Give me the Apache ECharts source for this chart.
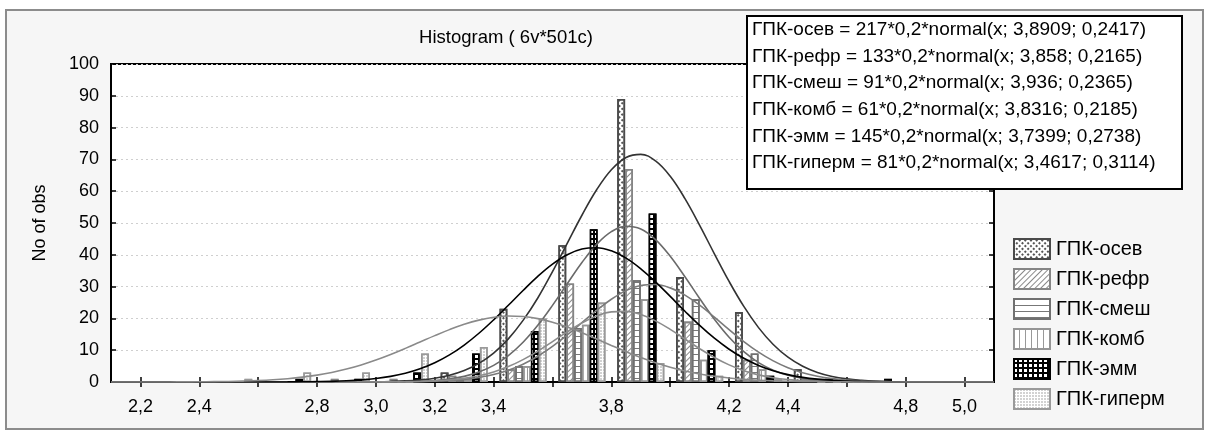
<!DOCTYPE html>
<html>
<head>
<meta charset="utf-8">
<script src="https://cdn.jsdelivr.net/npm/echarts@6/dist/echarts.min.js"></script>
<style>
html,body{margin:0;padding:0;background:#fff;}
#chart{width:1209px;height:431px;}
</style>
</head>
<body>
<div id="chart"></div>
<script>
// ---- data ----
const seriesNames = ['ГПК-осев','ГПК-рефр','ГПК-смеш','ГПК-комб','ГПК-эмм','ГПК-гиперм'];
const binCenters = [2.3,2.5,2.7,2.9,3.1,3.3,3.5,3.7,3.9,4.1,4.3,4.5,4.7,4.9];
const osev   = [0,0,0,0,0,3,23,43,89,33,22,4,0,0];
const refr   = [0,0,0,1,1,2,4,31,67,19,7,1,0,0];
const smesh  = [0,0,0,0,0,1,5,17,32,26,9,1,0,0];
const komb   = [0,0,0,0,0,1,5,18,26,7,4,0,0,0];
const emm    = [0,0,1,1,3,9,16,48,53,10,2,1,1,0];
const giperm = [0,1,3,3,9,11,20,25,6,2,1,0,0,0];

// fitted normal curves, read at x = 2.1 ... 5.1 (step 0.05)
const curveX = [2.1,2.15,2.2,2.25,2.3,2.35,2.4,2.45,2.5,2.55,
                2.6,2.65,2.7,2.75,2.8,2.85,2.9,2.95,3.0,3.05,
                3.1,3.15,3.2,3.25,3.3,3.35,3.4,3.45,3.5,3.55,
                3.6,3.65,3.7,3.75,3.8,3.85,3.9,3.95,4.0,4.05,
                4.1,4.15,4.2,4.25,4.3,4.35,4.4,4.45,4.5,4.55,
                4.6,4.65,4.7,4.75,4.8,4.85,4.9,4.95,5.0,5.05,5.1];
const osevFit = [0,0,0,0,0,0,0,0,0,0,
                 0,0,0,0,0,0.01,0.02,0.04,0.08,0.17,
                 0.34,0.65,1.2,2.13,3.61,5.86,9.11,13.57,19.37,26.42,
                 34.72,43.59,52.44,60.44,66.74,70.61,71.58,69.52,64.69,57.67,
                 49.27,40.32,31.62,23.76,17.1,11.79,7.79,4.93,2.99,1.74,
                 0.97,0.52,0.26,0.13,0.06,0.03,0.01,0,0,0,0];
const refrFit = [0,0,0,0,0,0,0,0,0,0,
                 0,0,0,0,0,0,0,0.01,0.02,0.05,
                 0.11,0.23,0.48,0.95,1.77,3.13,5.23,8.3,12.49,17.82,
                 24.1,30.9,37.56,43.29,47.29,48.99,48.11,44.79,39.53,33.08,
                 26.25,19.74,14.08,9.52,6.1,3.71,2.13,1.17,0.6,0.3,
                 0.14,0.06,0.03,0.01,0,0,0,0,0,0,0];
const smeshFit = [0,0,0,0,0,0,0,0,0,0,
                  0,0,0,0,0,0,0,0,0.01,0.03,
                  0.06,0.12,0.24,0.46,0.83,1.43,2.35,3.72,5.61,8.1,
                  11.19,14.78,18.66,22.53,26.02,28.74,30.35,30.65,29.6,27.33,
                  24.14,20.39,16.46,12.72,9.39,6.63,4.48,2.89,1.79,1.06,
                  0.6,0.32,0.17,0.08,0.04,0.02,0.01,0,0,0,0];
const kombFit = [0,0,0,0,0,0,0,0,0,0,
                 0,0,0,0,0,0,0,0.01,0.02,0.04,
                 0.08,0.17,0.34,0.64,1.15,1.96,3.17,4.85,7.04,9.71,
                 12.7,15.77,18.58,20.77,22.04,22.2,21.21,19.23,16.55,13.52,
                 10.47,7.7,5.38,3.56,2.24,1.33,0.76,0.41,0.21,0.1,
                 0.05,0.02,0.01,0,0,0,0,0,0,0,0];
const emmFit = [0,0,0,0,0,0,0,0,0,0,
                0.01,0.02,0.03,0.06,0.12,0.21,0.38,0.66,1.1,1.77,
                2.75,4.15,6.05,8.52,11.62,15.33,19.55,24.12,28.78,33.22,
                37.08,40.03,41.8,42.22,41.24,38.97,35.61,31.48,26.91,22.25,
                17.79,13.76,10.3,7.45,5.21,3.53,2.31,1.46,0.9,0.53,
                0.3,0.17,0.09,0.05,0.02,0.01,0,0,0,0,0];
const gipermFit = [0,0,0.01,0.01,0.02,0.04,0.06,0.11,0.18,0.29,
                   0.45,0.69,1.04,1.52,2.17,3.01,4.08,5.38,6.91,8.66,
                   10.57,12.58,14.58,16.47,18.14,19.46,20.35,20.74,20.6,19.94,
                   18.81,17.29,15.49,13.52,11.5,9.54,7.71,6.07,4.66,3.48,
                   2.54,1.8,1.25,0.84,0.55,0.35,0.22,0.13,0.08,0.05,
                   0.03,0.01,0.01,0,0,0,0,0,0,0,0];

const formulaLines = [
  'ГПК-осев = 217*0,2*normal(x; 3,8909; 0,2417)',
  'ГПК-рефр = 133*0,2*normal(x; 3,858; 0,2165)',
  'ГПК-смеш = 91*0,2*normal(x; 3,936; 0,2365)',
  'ГПК-комб = 61*0,2*normal(x; 3,8316; 0,2185)',
  'ГПК-эмм = 145*0,2*normal(x; 3,7399; 0,2738)',
  'ГПК-гиперм = 81*0,2*normal(x; 3,4617; 0,3114)'
];
const xTickValues = [2.2,2.4,2.6,2.8,3.0,3.2,3.4,3.6,3.8,4.0,4.2,4.4,4.6,4.8,5.0];
const xLabelValues = [2.2,2.4,2.8,3.0,3.2,3.4,3.8,4.2,4.4,4.8,5.0];
const titleText = 'Histogram ( 6v*501c)';
const yName = 'No of obs';

// ---- styles ----
const FONT = '"Liberation Sans", Arial, sans-serif';
const barValues = [osev, refr, smesh, komb, emm, giperm];
const fitValues = [osevFit, refrFit, smeshFit, kombFit, emmFit, gipermFit];
const barStyles = [
  {color:'#fff', borderColor:'#4a4a4a', decal:{color:'#555', symbol:'rect', symbolSize:1, dashArrayX:[2,2], dashArrayY:[2,2], rotation:Math.PI/4}},
  {color:'#fff', borderColor:'#858585', decal:{color:'#8a8a8a', symbol:'rect', symbolSize:1, dashArrayX:[1,0], dashArrayY:[1,3], rotation:-Math.PI/4}},
  {color:'#fff', borderColor:'#707070', decal:{color:'#777', symbol:'rect', symbolSize:1, dashArrayX:[1,0], dashArrayY:[1,5], rotation:0}},
  {color:'#fff', borderColor:'#959595', decal:{color:'#999', symbol:'rect', symbolSize:1, dashArrayX:[1,0], dashArrayY:[1,5], rotation:Math.PI/2}},
  {color:'#000', borderColor:'#000', decal:{color:'#fff', symbol:'rect', symbolSize:1, dashArrayX:[3,2], dashArrayY:[3,2], rotation:0}},
  {color:'#fff', borderColor:'#9a9a9a', decal:{color:'#aaa', symbol:'rect', symbolSize:0.7, dashArrayX:[2,1], dashArrayY:[2,1], rotation:0}}
];
const lineColors = ['#333333','#6a6a6a','#7a7a7a','#8c8c8c','#000','#8a8a8a'];

const series = [];
seriesNames.forEach((name, s) => {
  series.push({
    name: name, type: 'bar', xAxisIndex: 0, yAxisIndex: 0,
    barGap: '0%', barCategoryGap: '20%',
    data: binCenters.map((c, i) => [c, barValues[s][i]]),
    itemStyle: Object.assign({borderWidth: 1.6}, barStyles[s]),
    emphasis: {disabled: true}, z: 2
  });
});
seriesNames.forEach((name, s) => {
  series.push({
    name: name + ' fit', type: 'line', xAxisIndex: 0, yAxisIndex: 0,
    data: curveX.map((x, i) => [x, fitValues[s][i]]),
    smooth: 0.4, showSymbol: false, symbol: 'none',
    lineStyle: {color: lineColors[s], width: 1.6},
    emphasis: {disabled: true}, z: 3, silent: true
  });
});

const fmt = v => Number(v).toFixed(1).replace('.', ',');

const graphics = [
  {type:'rect', z:-10, shape:{x:6, y:10, width:1197, height:419}, style:{fill:'#f6f6f6', stroke:'#8c8c8c', lineWidth:2}},
  {type:'text', z:10, x:506, y:38, style:{text:titleText, font:'18.5px ' + FONT, fill:'#000', textAlign:'center', textVerticalAlign:'middle'}},
  {type:'rect', z:20, shape:{x:747, y:16, width:435, height:173}, style:{fill:'#fff', stroke:'#000', lineWidth:2}}
];
formulaLines.forEach((t, i) => {
  graphics.push({type:'text', z:21, x:752, y:30 + i*26.6, style:{text:t, font:'19px ' + FONT, fill:'#000', textAlign:'left', textVerticalAlign:'middle'}});
});

const chart = echarts.init(document.getElementById('chart'), null, {renderer:'canvas'});
chart.setOption({
  animation: false,
  backgroundColor: '#fff',
  textStyle: {fontFamily: FONT},
  grid: {left:111, right:215, top:64, bottom:49, show:true, backgroundColor:'#fff', borderColor:'#000', borderWidth:2},
  legend: {
    show: true, orient:'vertical', left:1008, top:233,
    itemWidth:36, itemHeight:20, itemGap:8,
    data: seriesNames, selectedMode:false,
    icon: 'rect',
    textStyle:{fontSize:20, color:'#000', fontFamily:FONT, padding:[0,0,0,1]}
  },
  xAxis: [
    {type:'value', min:2.1, max:5.1, position:'bottom',
     axisLine:{show:true, lineStyle:{color:'#000', width:2}},
     axisTick:{show:true, inside:true, length:5, customValues:xTickValues, lineStyle:{color:'#000', width:1.5}},
     axisLabel:{show:true, customValues:xLabelValues, formatter:fmt, fontSize:18, color:'#000', margin:16, fontFamily:FONT},
     splitLine:{show:false}},
    {type:'value', min:2.1, max:5.1, position:'top',
     axisLine:{show:true, lineStyle:{color:'#000', width:2}},
     axisTick:{show:true, inside:true, length:5, customValues:xTickValues, lineStyle:{color:'#000', width:1.5}},
     axisLabel:{show:false}, splitLine:{show:false}}
  ],
  yAxis: [
    {type:'value', min:0, max:100, interval:10, position:'left',
     name: yName, nameLocation:'middle', nameGap:62, nameRotate:90,
     nameTextStyle:{fontSize:18, color:'#000', fontFamily:FONT},
     axisLine:{show:true, lineStyle:{color:'#000', width:2}},
     axisTick:{show:true, inside:true, length:5, lineStyle:{color:'#000', width:1.5}},
     axisLabel:{fontSize:18, color:'#000', margin:12, fontFamily:FONT},
     splitLine:{show:true, lineStyle:{color:'#cfcfcf', type:[2,3], width:1}}},
    {type:'value', min:0, max:100, interval:10, position:'right',
     axisLine:{show:true, lineStyle:{color:'#000', width:2}},
     axisTick:{show:true, inside:true, length:5, lineStyle:{color:'#000', width:1.5}},
     axisLabel:{show:false}, splitLine:{show:false}}
  ],
  series: series,
  graphic: graphics
});
</script>
</body>
</html>
